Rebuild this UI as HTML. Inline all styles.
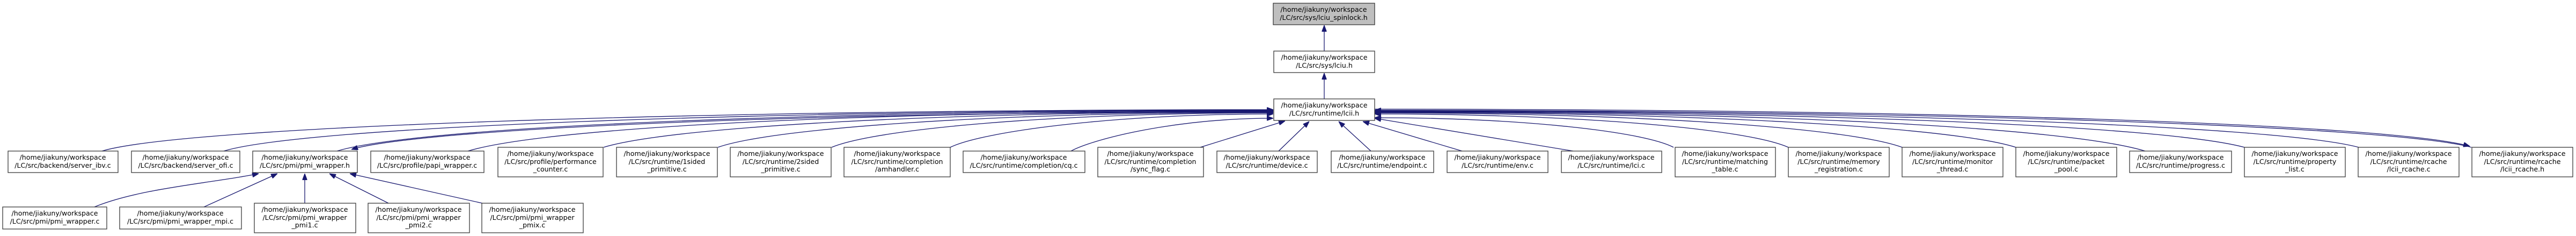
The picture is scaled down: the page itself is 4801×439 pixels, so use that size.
<!DOCTYPE html>
<html><head><meta charset="utf-8">
<style>
html,body{margin:0;padding:0;background:#fff;}
svg{display:block;}
text{font-family:"DejaVu Sans","Liberation Sans",sans-serif;font-size:12.6px;fill:#000;}
.n{fill:#fff;stroke:#3a3a3a;stroke-width:1.3;}
.g{fill:#bfbfbf;stroke:#3a3a3a;stroke-width:1.3;}
.e{fill:none;stroke:#191970;stroke-width:1.3;}
</style></head><body>
<svg width="4801" height="439" viewBox="0 0 4801 439" xmlns="http://www.w3.org/2000/svg">
<defs>
<marker id="a" viewBox="0 0 12 9" refX="12" refY="4.5" markerWidth="12" markerHeight="9" markerUnits="userSpaceOnUse" orient="auto">
<path d="M0,0 L12,4.5 L0,9 z" fill="#191970" stroke="#191970"/>
</marker>
</defs>

<g class="e" marker-end="url(#a)">
<path class="e" marker-end="url(#a)" d="M2468,95 L2468,47"/>
<path class="e" marker-end="url(#a)" d="M2468,184 L2468,136"/>
<path class="e" marker-end="url(#a)" d="M190,281 C340,236 1282,204 2373,204"/>
<path class="e" marker-end="url(#a)" d="M417,281 C567,236 1395,205 2373,205"/>
<path class="e" marker-end="url(#a)" d="M628,281 C778,236 1500,206 2373,206"/>
<path class="e" marker-end="url(#a)" d="M2373,208 C1500,208 780,240 655,278"/>
<path class="e" marker-end="url(#a)" d="M872,281 C1022,236 1622,207 2373,207"/>
<path class="e" marker-end="url(#a)" d="M1125,274 C1250,236 1749,208 2373,208"/>
<path class="e" marker-end="url(#a)" d="M1338,274 C1441,238 1855,209 2373,209"/>
<path class="e" marker-end="url(#a)" d="M1550,274 C1632,240 1961,210 2373,210"/>
<path class="e" marker-end="url(#a)" d="M1771,274 C1831,245 2072,212 2373,212"/>
<path class="e" marker-end="url(#a)" d="M1996,281 C2034,260 2185,220 2373,220"/>
<path class="e" marker-end="url(#a)" d="M2237,274 L2395,225"/>
<path class="e" marker-end="url(#a)" d="M2383,281 L2440,226"/>
<path class="e" marker-end="url(#a)" d="M2555,281 L2495,226"/>
<path class="e" marker-end="url(#a)" d="M2725,281 L2540,226"/>
<path class="e" marker-end="url(#a)" d="M2932,281 L2562,220"/>
<path class="e" marker-end="url(#a)" d="M3119,274 C3063,245 2840,219 2562,219"/>
<path class="e" marker-end="url(#a)" d="M3333,274 C3256,240 2947,212 2562,212"/>
<path class="e" marker-end="url(#a)" d="M3545,274 C3447,238 3053,210 2562,210"/>
<path class="e" marker-end="url(#a)" d="M3757,274 C3637,236 3159,209 2562,209"/>
<path class="e" marker-end="url(#a)" d="M3998,281 C3848,236 3280,208 2562,208"/>
<path class="e" marker-end="url(#a)" d="M4183,274 C4033,234 3372,207 2562,207"/>
<path class="e" marker-end="url(#a)" d="M4396,274 C4246,234 3479,206 2562,206"/>
<path class="e" marker-end="url(#a)" d="M4606,274 C4456,234 3584,205 2562,205"/>
<path class="e" marker-end="url(#a)" d="M2562,203 C3584,203 4450,230 4603,272"/>
<path class="e" marker-end="url(#a)" d="M176,385 C260,350 400,340 482,323"/>
<path class="e" marker-end="url(#a)" d="M380,385 L517,323"/>
<path class="e" marker-end="url(#a)" d="M568,378 L568,323"/>
<path class="e" marker-end="url(#a)" d="M724,378 L614,323"/>
<path class="e" marker-end="url(#a)" d="M899,378 L652,323"/>
</g>

<rect class="g" x="2373" y="6" width="189" height="40"/>
<text x="2467" y="22" text-anchor="middle">/home/jiakuny/workspace</text>
<text x="2467" y="37" text-anchor="middle">/LC/src/sys/lciu_spinlock.h</text>

<rect class="n" x="2374" y="95" width="188" height="40"/>
<text x="2468" y="111" text-anchor="middle">/home/jiakuny/workspace</text>
<text x="2468" y="126" text-anchor="middle">/LC/src/sys/lciu.h</text>

<rect class="n" x="2374" y="184" width="188" height="40"/>
<text x="2468" y="200" text-anchor="middle">/home/jiakuny/workspace</text>
<text x="2468" y="215" text-anchor="middle">/LC/src/runtime/lcii.h</text>

<g text-anchor="middle">
<rect class="n" x="15" y="281" width="205" height="40"/>
<text x="117" y="297">/home/jiakuny/workspace</text><text x="117" y="312">/LC/src/backend/server_ibv.c</text>
<rect class="n" x="245" y="281" width="202" height="40"/>
<text x="346" y="297">/home/jiakuny/workspace</text><text x="346" y="312">/LC/src/backend/server_ofi.c</text>
<rect class="n" x="471" y="281" width="195" height="40"/>
<text x="568" y="297">/home/jiakuny/workspace</text><text x="568" y="312">/LC/src/pmi/pmi_wrapper.h</text>
<rect class="n" x="691" y="281" width="211" height="40"/>
<text x="796" y="297">/home/jiakuny/workspace</text><text x="796" y="312">/LC/src/profile/papi_wrapper.c</text>
<rect class="n" x="1795" y="281" width="227" height="40"/>
<text x="1908" y="297">/home/jiakuny/workspace</text><text x="1908" y="312">/LC/src/runtime/completion/cq.c</text>
<rect class="n" x="2268" y="281" width="187" height="40"/>
<text x="2361" y="297">/home/jiakuny/workspace</text><text x="2361" y="312">/LC/src/runtime/device.c</text>
<rect class="n" x="2481" y="281" width="191" height="40"/>
<text x="2576" y="297">/home/jiakuny/workspace</text><text x="2576" y="312">/LC/src/runtime/endpoint.c</text>
<rect class="n" x="2697" y="281" width="188" height="40"/>
<text x="2791" y="297">/home/jiakuny/workspace</text><text x="2791" y="312">/LC/src/runtime/env.c</text>
<rect class="n" x="2910" y="281" width="187" height="40"/>
<text x="3003" y="297">/home/jiakuny/workspace</text><text x="3003" y="312">/LC/src/runtime/lci.c</text>
<rect class="n" x="3969" y="281" width="190" height="40"/>
<text x="4064" y="297">/home/jiakuny/workspace</text><text x="4064" y="312">/LC/src/runtime/progress.c</text>

<rect class="n" x="928" y="274" width="196" height="55"/>
<text x="1026" y="290">/home/jiakuny/workspace</text><text x="1026" y="305">/LC/src/profile/performance</text><text x="1026" y="319">_counter.c</text>
<rect class="n" x="1149" y="274" width="188" height="55"/>
<text x="1243" y="290">/home/jiakuny/workspace</text><text x="1243" y="305">/LC/src/runtime/1sided</text><text x="1243" y="319">_primitive.c</text>
<rect class="n" x="1361" y="274" width="188" height="55"/>
<text x="1455" y="290">/home/jiakuny/workspace</text><text x="1455" y="305">/LC/src/runtime/2sided</text><text x="1455" y="319">_primitive.c</text>
<rect class="n" x="1573" y="274" width="198" height="55"/>
<text x="1672" y="290">/home/jiakuny/workspace</text><text x="1672" y="305">/LC/src/runtime/completion</text><text x="1672" y="319">/amhandler.c</text>
<rect class="n" x="2046" y="274" width="197" height="55"/>
<text x="2144" y="290">/home/jiakuny/workspace</text><text x="2144" y="305">/LC/src/runtime/completion</text><text x="2144" y="319">/sync_flag.c</text>
<rect class="n" x="3122" y="274" width="187" height="55"/>
<text x="3215" y="290">/home/jiakuny/workspace</text><text x="3215" y="305">/LC/src/runtime/matching</text><text x="3215" y="319">_table.c</text>
<rect class="n" x="3333" y="274" width="188" height="55"/>
<text x="3427" y="290">/home/jiakuny/workspace</text><text x="3427" y="305">/LC/src/runtime/memory</text><text x="3427" y="319">_registration.c</text>
<rect class="n" x="3545" y="274" width="188" height="55"/>
<text x="3639" y="290">/home/jiakuny/workspace</text><text x="3639" y="305">/LC/src/runtime/monitor</text><text x="3639" y="319">_thread.c</text>
<rect class="n" x="3757" y="274" width="188" height="55"/>
<text x="3851" y="290">/home/jiakuny/workspace</text><text x="3851" y="305">/LC/src/runtime/packet</text><text x="3851" y="319">_pool.c</text>
<rect class="n" x="4183" y="274" width="188" height="55"/>
<text x="4277" y="290">/home/jiakuny/workspace</text><text x="4277" y="305">/LC/src/runtime/property</text><text x="4277" y="319">_list.c</text>
<rect class="n" x="4395" y="274" width="188" height="55"/>
<text x="4489" y="290">/home/jiakuny/workspace</text><text x="4489" y="305">/LC/src/runtime/rcache</text><text x="4489" y="319">/lcii_rcache.c</text>
<rect class="n" x="4607" y="274" width="188" height="55"/>
<text x="4701" y="290">/home/jiakuny/workspace</text><text x="4701" y="305">/LC/src/runtime/rcache</text><text x="4701" y="319">/lcii_rcache.h</text>

<rect class="n" x="5" y="385" width="194" height="41"/>
<text x="102" y="401">/home/jiakuny/workspace</text><text x="102" y="416">/LC/src/pmi/pmi_wrapper.c</text>
<rect class="n" x="223" y="385" width="227" height="41"/>
<text x="336" y="401">/home/jiakuny/workspace</text><text x="336" y="416">/LC/src/pmi/pmi_wrapper_mpi.c</text>
<rect class="n" x="474" y="378" width="189" height="55"/>
<text x="568" y="394">/home/jiakuny/workspace</text><text x="568" y="409">/LC/src/pmi/pmi_wrapper</text><text x="568" y="423">_pmi1.c</text>
<rect class="n" x="686" y="378" width="189" height="55"/>
<text x="780" y="394">/home/jiakuny/workspace</text><text x="780" y="409">/LC/src/pmi/pmi_wrapper</text><text x="780" y="423">_pmi2.c</text>
<rect class="n" x="898" y="378" width="189" height="55"/>
<text x="992" y="394">/home/jiakuny/workspace</text><text x="992" y="409">/LC/src/pmi/pmi_wrapper</text><text x="992" y="423">_pmix.c</text>
</g>
</svg>
</body></html>
